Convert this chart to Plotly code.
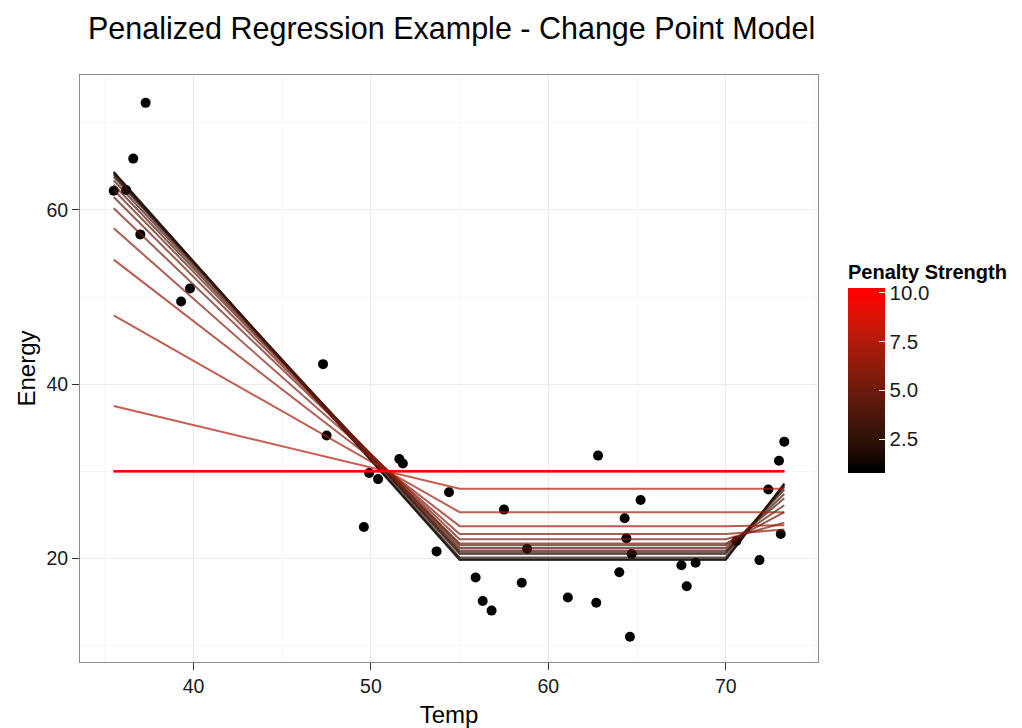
import plotly.graph_objects as go
import numpy as np

# ---------------- data ----------------
temp = [35.5, 36.2, 36.6, 37.3, 37.0, 39.3, 39.8, 47.3, 47.5, 49.9, 50.4, 49.6, 51.6, 51.8,
        54.4, 53.7, 55.9, 56.3, 56.8, 57.5, 58.8, 58.5, 61.1, 62.8, 62.7, 64.0, 64.3, 64.4,
        64.7, 64.6, 65.2, 67.5, 67.8, 68.3, 70.6, 71.9, 72.4, 73.0, 73.3, 73.1]
energy = [62.2, 62.3, 65.9, 72.3, 57.2, 49.5, 51.0, 42.3, 34.1, 29.8, 29.1, 23.6, 31.4, 30.9,
          27.6, 20.8, 17.8, 15.1, 14.0, 25.6, 21.1, 17.2, 15.5, 31.8, 14.9, 18.4, 24.6, 22.3,
          20.5, 11.0, 26.7, 19.2, 16.8, 19.5, 22.0, 19.8, 27.9, 31.2, 33.4, 22.8]

# fitted change-point model knots (temperature)
knots = [35.5, 55.0, 70.0, 73.3]

penalty = [1, 1.5, 2, 2.5, 3, 3.5, 4, 4.5, 5, 5.5, 6, 6.5, 7, 7.5, 8, 8.5, 9, 9.5, 10]
fit_left = [64.4, 64.3, 64.2, 64.0, 63.8, 63.4, 62.9, 62.3, 61.5, 60.2, 57.9, 54.3, 47.9, 37.5, 30, 30, 30, 30, 30]
fit_flat = [19.8, 19.9, 20.1, 20.5, 20.7, 20.9, 21.2, 21.5, 21.7, 22.2, 22.8, 23.7, 25.3, 28.0, 30, 30, 30, 30, 30]
fit_right = [28.6, 28.5, 28.4, 28.2, 27.9, 27.4, 26.9, 26.1, 25.3, 24.1, 23.3, 23.8, 25.3, 28.0, 30, 30, 30, 30, 30]

x_ticks = [40, 50, 60, 70]
y_ticks = [20, 40, 60]
cb_ticks = [2.5, 5.0, 7.5, 10.0]
pen_min, pen_max = 1.0, 10.0

# ---------------- colour gradient (black -> red in Lab, like ggplot) ----------------
def srgb_to_lin(c):
    c = c / 255.0
    return c / 12.92 if c <= 0.04045 else ((c + 0.055) / 1.055) ** 2.4

def lin_to_srgb(c):
    c = max(0.0, min(1.0, c))
    v = 12.92 * c if c <= 0.0031308 else 1.055 * c ** (1 / 2.4) - 0.055
    return int(round(max(0, min(1, v)) * 255))

def rgb_to_lab(r, g, b):
    R, G, B = srgb_to_lin(r), srgb_to_lin(g), srgb_to_lin(b)
    X = 0.4124 * R + 0.3576 * G + 0.1805 * B
    Y = 0.2126 * R + 0.7152 * G + 0.0722 * B
    Z = 0.0193 * R + 0.1192 * G + 0.9505 * B
    X /= 0.95047; Z /= 1.08883
    f = lambda t: t ** (1 / 3) if t > 0.008856 else 7.787 * t + 16 / 116
    fx, fy, fz = f(X), f(Y), f(Z)
    return 116 * fy - 16, 500 * (fx - fy), 200 * (fy - fz)

def lab_to_rgb(L, a, b):
    fy = (L + 16) / 116
    fx = fy + a / 500
    fz = fy - b / 200
    finv = lambda t: t ** 3 if t ** 3 > 0.008856 else (t - 16 / 116) / 7.787
    X, Y, Z = 0.95047 * finv(fx), finv(fy), 1.08883 * finv(fz)
    R = 3.2406 * X - 1.5372 * Y - 0.4986 * Z
    G = -0.9689 * X + 1.8758 * Y + 0.0415 * Z
    B = 0.0557 * X - 0.2040 * Y + 1.0570 * Z
    return lin_to_srgb(R), lin_to_srgb(G), lin_to_srgb(B)

lab_hi = rgb_to_lab(255, 0, 0)
lab_lo = (0.0, 0.0, 0.0)

def pen_color(v):
    t = (v - pen_min) / (pen_max - pen_min)
    t = max(0.0, min(1.0, t))
    L = lab_lo[0] + t * (lab_hi[0] - lab_lo[0])
    a = lab_lo[1] + t * (lab_hi[1] - lab_lo[1])
    b = lab_lo[2] + t * (lab_hi[2] - lab_lo[2])
    r, g, bb = lab_to_rgb(L, a, b)
    return f"rgb({r},{g},{bb})"

fig = go.Figure()

# points
fig.add_trace(go.Scatter(x=temp, y=energy, mode="markers",
                         marker=dict(color="black", size=10),
                         showlegend=False, hoverinfo="skip"))

# fitted lines
for p, l, f, r in zip(penalty, fit_left, fit_flat, fit_right):
    fig.add_trace(go.Scatter(x=knots, y=[l, f, f, r], mode="lines",
                             line=dict(color=pen_color(p), width=2),
                             opacity=0.7, showlegend=False, hoverinfo="skip"))

# colourbar (bar extends half a bin beyond limits like ggplot)
half = (pen_max - pen_min) / 19 / 2
cmin, cmax = pen_min - half, pen_max + half
stops = np.linspace(0, 1, 41)
cscale = [[float(s), pen_color(cmin + s * (cmax - cmin))] for s in stops]

# layout pixels (page has an 8px body margin, so figure coords = page coords - 8)
OFF = 8
W, H = 1022 - OFF, 728 - OFF
L_ = 80 - OFF
R_ = W - (818 - OFF)
T_ = 75 - OFF
B_ = H - (662 - OFF)
plot_w = W - L_ - R_
plot_h = H - T_ - B_
bottom_px = 662 - OFF
font_family = "Liberation Sans, Arial, sans-serif"

fig.add_trace(go.Scatter(
    x=[None, None], y=[None, None], mode="markers", showlegend=False,
    marker=dict(color=[pen_min, pen_max], cmin=cmin, cmax=cmax, colorscale=cscale,
                showscale=True,
                colorbar=dict(
                    title=dict(text="<b>Penalty Strength</b>", side="top",
                               font=dict(size=20, color="black", family=font_family)),
                    tickvals=cb_ticks, ticktext=[f"{v:.1f}" for v in cb_ticks],
                    ticks="inside", ticklen=6, tickcolor="white", tickwidth=1,
                    tickfont=dict(size=20.5, color="#1a1a1a", family=font_family),
                    thicknessmode="pixels", thickness=37,
                    lenmode="pixels", len=212,
                    x=(848 - 80) / plot_w, xanchor="left",
                    y=(bottom_px - (261 - OFF)) / plot_h, yanchor="top",
                    xpad=0, ypad=0, outlinewidth=0,
                ))))

fig.update_layout(
    width=W, height=H,
    margin=dict(l=L_, r=R_, t=T_, b=B_, autoexpand=False),
    paper_bgcolor="white", plot_bgcolor="white",
    font=dict(family=font_family, color="black"),
    title=dict(text="Penalized Regression Example - Change Point Model",
               x=(88 - OFF) / W, xanchor="left", y=1 - (28 - OFF) / H, yanchor="middle",
               font=dict(size=30.5, color="black")),
    xaxis=dict(
        range=[33.6, 75.2], tickvals=x_ticks, ticks="outside", ticklen=7, tickcolor="#333333",
        tickfont=dict(size=19.5, color="#1a1a1a"),
        showgrid=True, gridcolor="#ebebeb", gridwidth=1,
        minor=dict(tickvals=[35, 45, 55, 65, 75], showgrid=True, gridcolor="#f7f7f7", ticks=""),
        showline=True, linecolor="#8c8c8c", linewidth=1, mirror=True, zeroline=False,
        automargin=False,
        title=dict(text="Temp", font=dict(size=24), standoff=10),
    ),
    yaxis=dict(
        range=[8.1, 75.5], tickvals=y_ticks, ticks="outside", ticklen=7, tickcolor="#333333",
        tickfont=dict(size=19.5, color="#1a1a1a"),
        showgrid=True, gridcolor="#ebebeb", gridwidth=1,
        minor=dict(tickvals=[10, 30, 50, 70], showgrid=True, gridcolor="#f7f7f7", ticks=""),
        showline=True, linecolor="#8c8c8c", linewidth=1, mirror=True, zeroline=False,
        automargin=False,
        title=dict(text="Energy", font=dict(size=24), standoff=3),
    ),
)

fig.write_html("out.html")
